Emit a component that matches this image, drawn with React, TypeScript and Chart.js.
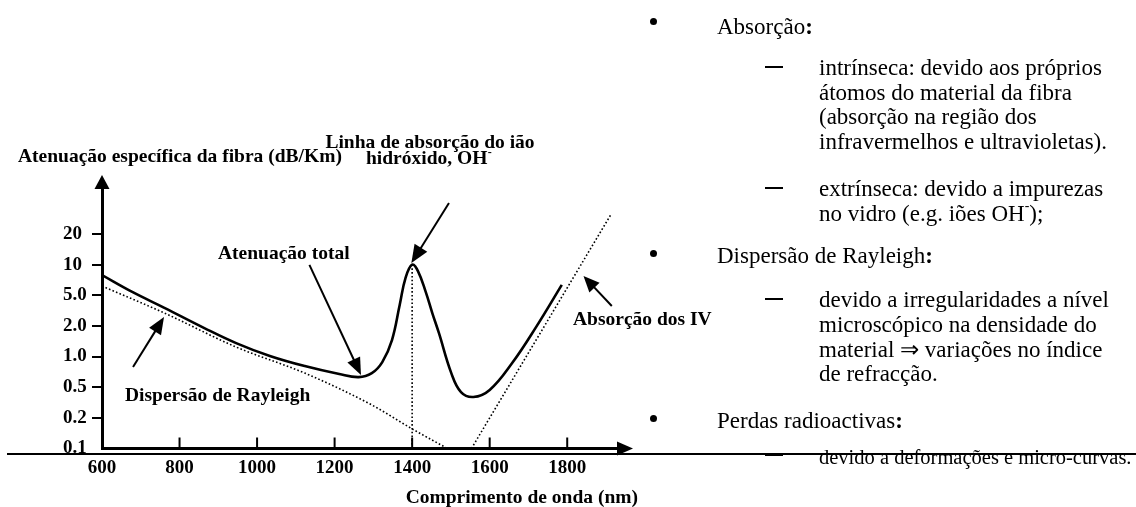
import React, { useEffect, useRef } from "react";
import { Chart, registerables } from "chart.js";

Chart.register(...registerables);

// ---------------- data ----------------
// x: wavelength (nm). y: position on the figure's evenly spaced 1-2-5 attenuation
// axis (0 = "0.1", 1 = "0.2", ... 7 = "20"), as drawn in the original figure.
const yTickLabels = ["0.1", "0.2", "0.5", "1.0", "2.0", "5.0", "10", "20"];
const xTickValues = [600, 800, 1000, 1200, 1400, 1600, 1800];

const totalWavelength = [600, 678, 761, 864, 946, 1033, 1123, 1212, 1262, 1296, 1323, 1348, 1368, 1383, 1400, 1415, 1435, 1452, 1469, 1501, 1526, 1558, 1600, 1658, 1720, 1786];
const totalLevel = [5.66, 5.11, 4.59, 3.93, 3.44, 3.02, 2.69, 2.43, 2.33, 2.46, 2.82, 3.54, 4.69, 5.57, 6.0, 5.79, 5.11, 4.42, 3.77, 2.46, 1.84, 1.68, 1.91, 2.79, 3.97, 5.34];

const rayleighWavelength = [600, 761, 946, 1123, 1296, 1400, 1491];
const rayleighLevel = [5.3, 4.42, 3.31, 2.46, 1.42, 0.64, 0];

const irWavelength = [1553, 1912];
const irLevel = [0, 7.62];

const ohWavelength = [1400, 1400];
const ohLevel = [0, 6.0];

// annotation arrows: [tailWavelength, tailLevel, tipWavelength, tipLevel]
const arrowTotal = [1135, 5.99, 1268, 2.4];
const arrowOH = [1495, 8.01, 1398, 6.05];
const arrowIR = [1915, 4.65, 1842, 5.63];
const arrowRayleigh = [680, 2.66, 760, 4.29];

// texts
const yTitle = "Atenuação específica da fibra (dB/Km)";
const xTitle = "Comprimento de onda (nm)";
const labelTotal = "Atenuação total";
const labelRayleigh = "Dispersão de Rayleigh";
const labelIR = "Absorção dos IV";
const labelOH1 = "Linha de absorção do ião";
const labelOH2 = "hidróxido, OH";

const bulletTitles = ["Absorção", "Dispersão de Rayleigh", "Perdas radioactivas"];
const subItems = [
  ["intrínseca: devido aos próprios", "átomos do material da fibra", "(absorção na região dos", "infravermelhos e ultravioletas)."],
  ["extrínseca: devido a impurezas", "no vidro (e.g. iões OH^-);"],
  ["devido a irregularidades a nível", "microscópico na densidade do", "material ⇒ variações no índice", "de refracção."],
  ["devido a deformações e micro-curvas."],
];

// ---------------- layout ----------------
const PAGE_W = 1136;
const PAGE_H = 507;
const SERIF = '"Liberation Serif", "Times New Roman", serif';
const FRAME = { left: 102, right: 618, top: 188, bottom: 448.5 };
const Y_LABEL_LEFT = 63;
const X_AXIS_H = 40;
const X_MIN = 600;
const X_MAX = 1931;
const Y_MAX = 8.5;

function App() {
  const ref = useRef<HTMLCanvasElement>(null);

  useEffect(() => {
    const canvas = ref.current;
    if (!canvas) return;

    const arrow = (ctx: CanvasRenderingContext2D, x0: number, y0: number, x1: number, y1: number, len: number, half: number, lw: number) => {
      const a = Math.atan2(y1 - y0, x1 - x0);
      const bx = x1 - len * Math.cos(a);
      const by = y1 - len * Math.sin(a);
      ctx.lineWidth = lw;
      ctx.beginPath();
      ctx.moveTo(x0, y0);
      ctx.lineTo(bx + Math.cos(a), by + Math.sin(a));
      ctx.stroke();
      ctx.beginPath();
      ctx.moveTo(x1, y1);
      ctx.lineTo(bx + half * Math.sin(a), by - half * Math.cos(a));
      ctx.lineTo(bx - half * Math.sin(a), by + half * Math.cos(a));
      ctx.closePath();
      ctx.fill();
    };

    const annotate = {
      id: "annotate",
      afterDraw(chart: any) {
        const { ctx, chartArea } = chart;
        const xs = chart.scales.x;
        const ys = chart.scales.y;
        const X = (v: number) => xs.getPixelForValue(v);
        const Y = (v: number) => ys.getPixelForValue(v);
        ctx.save();
        ctx.fillStyle = "#000";
        ctx.strokeStyle = "#000";
        ctx.lineCap = "butt";

        // long page rule
        ctx.lineWidth = 2;
        ctx.beginPath();
        ctx.moveTo(7, 454);
        ctx.lineTo(PAGE_W, 454);
        ctx.stroke();

        // inner x tick marks
        ctx.lineWidth = 2;
        xTickValues.slice(1).forEach((v) => {
          const px = X(v);
          ctx.beginPath();
          ctx.moveTo(px, chartArea.bottom);
          ctx.lineTo(px, chartArea.bottom - 11);
          ctx.stroke();
        });

        // axis arrowheads
        const ax = chartArea.left;
        ctx.beginPath();
        ctx.moveTo(ax, chartArea.top - 13);
        ctx.lineTo(ax - 7.5, chartArea.top + 1);
        ctx.lineTo(ax + 7.5, chartArea.top + 1);
        ctx.closePath();
        ctx.fill();
        const ay = chartArea.bottom;
        ctx.beginPath();
        ctx.moveTo(chartArea.right + 15, ay);
        ctx.lineTo(chartArea.right - 1, ay - 7);
        ctx.lineTo(chartArea.right - 1, ay + 7);
        ctx.closePath();
        ctx.fill();

        // annotation arrows
        const drawA = (a: number[], len: number, half: number) =>
          arrow(ctx, X(a[0]), Y(a[1]), X(a[2]), Y(a[3]), len, half, 2);
        drawA(arrowTotal, 17, 7);
        drawA(arrowOH, 18, 7.5);
        drawA(arrowIR, 16, 7);
        drawA(arrowRayleigh, 17, 7);

        // labels
        ctx.textBaseline = "alphabetic";
        ctx.font = `bold 19.5px ${SERIF}`;
        ctx.textAlign = "left";
        ctx.fillText(yTitle, 18, 162);
        ctx.fillText(labelTotal, 218, 259);
        ctx.fillText(labelRayleigh, 125, 401);
        ctx.fillText(labelIR, 573, 325);
        ctx.textAlign = "center";
        ctx.fillText(labelOH1, 430, 148);
        ctx.textAlign = "left";
        ctx.fillText(labelOH2, 366, 164);
        const w = ctx.measureText(labelOH2).width;
        ctx.font = `bold 12px ${SERIF}`;
        ctx.fillText("-", 366 + w + 0.5, 156);
        ctx.font = `bold 19.5px ${SERIF}`;
        ctx.textAlign = "right";
        ctx.fillText(xTitle, 638, 503);
        ctx.restore();
      },
    };

    const pts = (xs: number[], ys: number[]) => xs.map((x, i) => ({ x, y: ys[i] }));
    const dotted = { borderColor: "#000", borderWidth: 1.6, borderDash: [1.6, 2.2], pointRadius: 0, fill: false };

    const chart = new Chart(canvas, {
      type: "line",
      data: {
        datasets: [
          { data: pts(totalWavelength, totalLevel), borderColor: "#000", borderWidth: 2.6, pointRadius: 0, fill: false, tension: 0.4 },
          { data: pts(rayleighWavelength, rayleighLevel), ...dotted, cubicInterpolationMode: "monotone" },
          { data: pts(irWavelength, irLevel), ...dotted },
          { data: pts(ohWavelength, ohLevel), ...dotted },
        ],
      } as any,
      options: {
        animation: false,
        responsive: false,
        events: [],
        layout: {
          padding: {
            left: Y_LABEL_LEFT,
            top: FRAME.top,
            right: PAGE_W - FRAME.right,
            bottom: PAGE_H - FRAME.bottom - X_AXIS_H,
          },
        },
        plugins: { legend: { display: false }, tooltip: { enabled: false }, title: { display: false } },
        scales: {
          x: {
            type: "linear",
            position: "bottom",
            min: X_MIN,
            max: X_MAX,
            afterBuildTicks: (s: any) => {
              s.ticks = xTickValues.map((v) => ({ value: v }));
            },
            afterFit: (s: any) => {
              s.height = X_AXIS_H;
            },
            ticks: {
              color: "#000",
              font: { family: SERIF, size: 19, weight: "bold" },
              padding: 8.5,
              maxRotation: 0,
              autoSkip: false,
              callback: (v: any) => String(v),
            },
            grid: { display: true, drawOnChartArea: false, drawTicks: false },
            border: { display: true, color: "#000", width: 3 },
          },
          y: {
            type: "linear",
            position: "left",
            min: 0,
            max: Y_MAX,
            afterBuildTicks: (s: any) => {
              s.ticks = yTickLabels.map((_, i) => ({ value: i }));
            },
            afterFit: (s: any) => {
              s.width = FRAME.left - Y_LABEL_LEFT;
            },
            ticks: {
              color: "#000",
              font: { family: SERIF, size: 19, weight: "bold" },
              padding: 4,
              crossAlign: "far",
              autoSkip: false,
              callback: (v: any) => yTickLabels[v],
            },
            grid: {
              display: true,
              drawOnChartArea: false,
              drawTicks: true,
              tickLength: 10,
              lineWidth: 2,
              color: (c: any) => (c.tick && c.tick.value === 0 ? "rgba(0,0,0,0)" : "#000"),
            },
            border: { display: true, color: "#000", width: 3 },
          },
        },
      } as any,
      plugins: [annotate],
    });
    return () => chart.destroy();
  }, []);

  // right-hand bullet text (page pixel positions)
  const FS = 23;
  const FS_SMALL = 20.5;
  const line = (key: string, text: string, left: number, baseline: number, size: number) => {
    const parts = text.split("^-");
    return (
      <div
        key={key}
        style={{
          position: "absolute",
          left,
          top: baseline - 0.8375 * size,
          fontSize: size,
          lineHeight: `${size}px`,
          fontFamily: SERIF,
          whiteSpace: "nowrap",
          color: "#000",
        }}
      >
        {parts.length > 1 ? (
          <>
            {parts[0]}
            <span style={{ fontSize: size * 0.6, position: "relative", top: -size * 0.45 }}>-</span>
            {parts[1]}
          </>
        ) : (
          text
        )}
        {key.startsWith("t") ? <b>:</b> : null}
      </div>
    );
  };
  const bullet = (key: string, cy: number) => (
    <div key={key} style={{ position: "absolute", left: 649.5, top: cy - 3.5, width: 7, height: 7, borderRadius: "50%", background: "#000" }} />
  );
  const dash = (key: string, cy: number) => (
    <div key={key} style={{ position: "absolute", left: 765, top: cy - 1, width: 18, height: 2, background: "#000" }} />
  );

  const titleBaselines = [34, 263, 428];
  const bulletCenters = [21, 253, 418];
  const itemBaselines = [
    [75, 100, 124, 149],
    [196, 221],
    [307, 332, 357, 381],
    [464],
  ];
  const dashCenters = [67, 188, 299, 455];
  const itemSection = [0, 0, 1, 2];

  const nodes: any[] = [];
  bulletTitles.forEach((t, i) => {
    nodes.push(bullet(`b${i}`, bulletCenters[i]));
    nodes.push(line(`t${i}`, t, 717, titleBaselines[i], FS));
  });
  subItems.forEach((lines, i) => {
    const small = itemSection[i] === 2;
    nodes.push(dash(`d${i}`, dashCenters[i]));
    lines.forEach((l, j) => nodes.push(line(`l${i}_${j}`, l, 819, itemBaselines[i][j], small ? FS_SMALL : FS)));
  });

  return (
    <div style={{ position: "absolute", left: 0, top: 0, width: PAGE_W, height: PAGE_H, overflow: "hidden", background: "#fff" }}>
      <canvas
        ref={ref}
        width={PAGE_W}
        height={PAGE_H}
        style={{ position: "absolute", left: 0, top: 0, width: `${PAGE_W}px`, height: `${PAGE_H}px` }}
      />
      {nodes}
    </div>
  );
}

export default App;
